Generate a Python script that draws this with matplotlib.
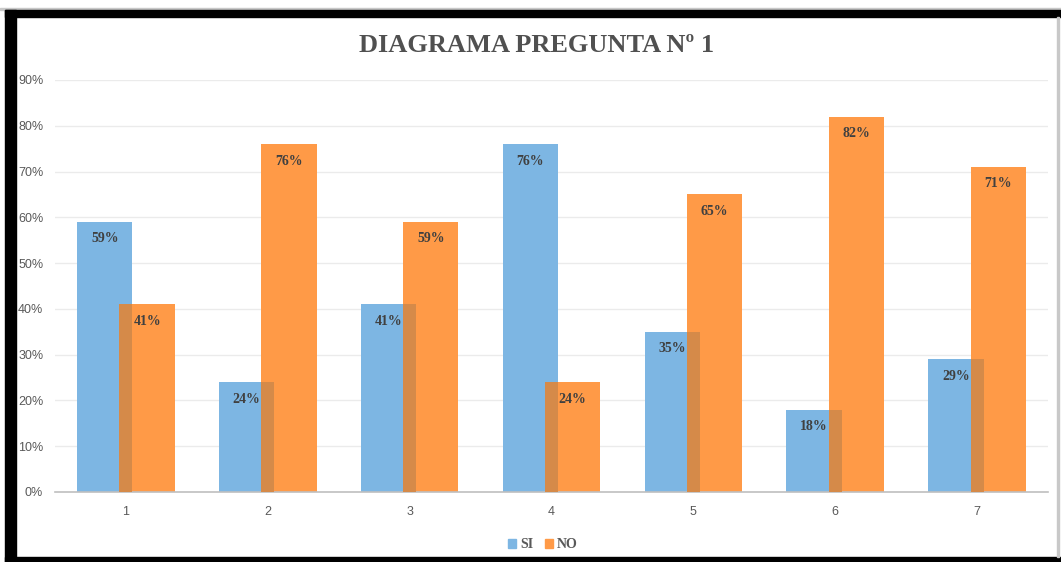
import matplotlib
matplotlib.use("Agg")
import matplotlib.pyplot as plt
from matplotlib.patches import Rectangle
import numpy as np

categories = ["1", "2", "3", "4", "5", "6", "7"]
si_values = [59, 24, 41, 76, 35, 18, 29]
no_values = [41, 76, 59, 24, 65, 82, 71]
y_ticks = [0, 10, 20, 30, 40, 50, 60, 70, 80, 90]
series_names = ["SI", "NO"]

BLUE = "#7DB6E3"
ORANGE = "#FF9A47"
OVERLAP = "#D58A49"
LABEL = "#404040"
TICK = "#595959"

W, H = 1061, 562
fig = plt.figure(figsize=(W / 100, H / 100), dpi=100)
fig.patch.set_facecolor("white")

# frame around the chart
def fig_rect(x0, y0, x1, y1, color):
    fig.patches.append(Rectangle((x0 / W, 1 - y1 / H), (x1 - x0) / W, (y1 - y0) / H,
                                 transform=fig.transFigure, color=color, zorder=0))

fig_rect(0, 8.5, W, 9.5, "#C8C8C8")
fig_rect(5, 10, W, 17, "black")
fig_rect(5, 10, 16, H, "black")
fig_rect(5, 557, W, H, "black")
fig_rect(1057, 17, 1059, 557, "#C8C8C8")

ax_left, ax_right, ax_top, ax_bottom = 55, 1048, 80, 492
ax = fig.add_axes([ax_left / W, 1 - ax_bottom / H, (ax_right - ax_left) / W, (ax_bottom - ax_top) / H])
ax.set_facecolor("white")

x = np.arange(1, len(categories) + 1)
width = 0.39
off = 0.149
si = np.array(si_values)
no = np.array(no_values)

ax.bar(x - off, si, width=width, color=BLUE, zorder=2)
ax.bar(x + off, no, width=width, color=ORANGE, zorder=2)
# region where the two bars overlap
ov_left = x + off - width / 2
ov_right = x - off + width / 2
ax.bar((ov_left + ov_right) / 2, np.minimum(si, no), width=ov_right - ov_left,
       color=OVERLAP, zorder=3)

serif = ["Liberation Serif", "DejaVu Serif"]
for xi, v in zip(x - off, si):
    ax.text(xi, v - 3.7, f"{v}%", ha="center", va="center", fontsize=10,
            fontweight="bold", family=serif, color=LABEL, zorder=4)
for xi, v in zip(x + off, no):
    ax.text(xi, v - 3.7, f"{v}%", ha="center", va="center", fontsize=10,
            fontweight="bold", family=serif, color=LABEL, zorder=4)

ax.set_xlim(0.5, 7.5)
ax.set_ylim(0, 90)
ax.set_yticks(y_ticks)
ax.set_yticklabels([f"{t}%" for t in y_ticks])
ax.set_xticks(x)
ax.set_xticklabels(categories)
ax.grid(axis="y", color="#EBEBEB", linewidth=1, zorder=0)
ax.set_axisbelow(True)
for s in ["top", "right", "left"]:
    ax.spines[s].set_visible(False)
ax.spines["bottom"].set_color("#BFBFBF")
ax.spines["bottom"].set_linewidth(1.2)
ax.tick_params(axis="both", length=0, colors=TICK, labelsize=9)
ax.tick_params(axis="y", pad=8.5)
ax.tick_params(axis="x", pad=10)
for lab in ax.get_xticklabels() + ax.get_yticklabels():
    lab.set_family(["Liberation Sans", "DejaVu Sans"])

fig.text(537 / W, 1 - 45 / H, "DIAGRAMA PREGUNTA Nº 1", ha="center", va="center",
         fontsize=19, fontweight="bold", family=serif, color="#505050")

handles = [Rectangle((0, 0), 1, 1, color=BLUE), Rectangle((0, 0), 1, 1, color=ORANGE)]
leg = fig.legend(handles, series_names, loc="center", bbox_to_anchor=(543 / W, 1 - 545 / H),
                 ncol=2, frameon=False, handlelength=0.6, handleheight=0.6,
                 handletextpad=0.3, columnspacing=0.8,
                 prop={"family": serif, "weight": "bold", "size": 10})
for t in leg.get_texts():
    t.set_color(TICK)

fig.savefig("out.png", dpi=100, facecolor="white")
